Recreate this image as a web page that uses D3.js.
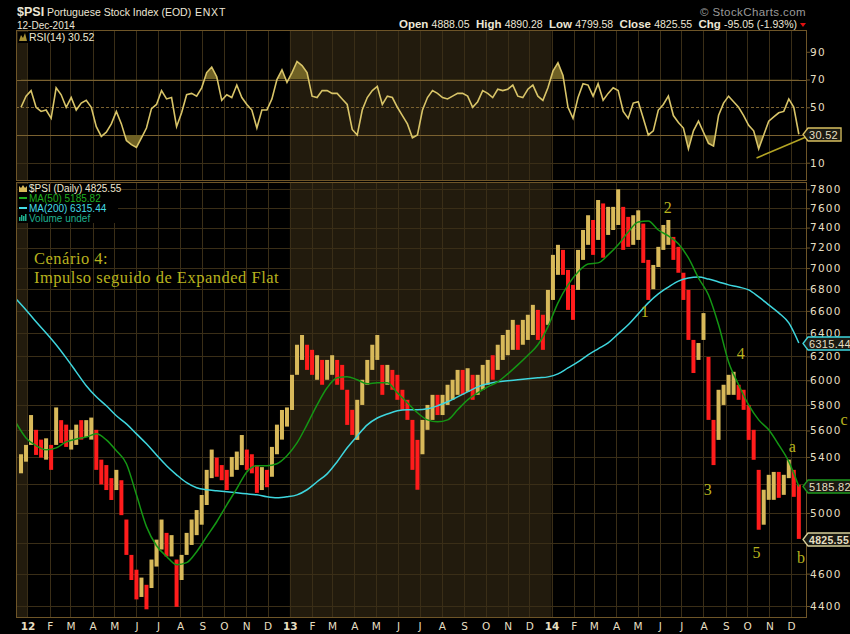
<!DOCTYPE html>
<html><head><meta charset="utf-8">
<script src="https://cdn.jsdelivr.net/npm/d3@7"></script>
<style>body{margin:0;background:#000;} svg{display:block;}</style>
</head><body><svg id="c" width="850" height="634"></svg>
<script>
// ---------- DATA ----------
const barStart = new Date(2011, 11, 23); // weekly bars (Fridays)
const high = [5420,5490,5720,5605,5530,5540,5490,5780,5680,5645,
5605,5645,5680,5680,5700,5605,5380,5340,5245,5305,
5230,4955,4720,4625,4575,4530,4690,4820,4955,4865,
4850,4690,4720,4865,4955,5020,5125,5305,5455,5395,
5340,5305,5400,5440,5565,5455,5420,5340,5325,5305,
5475,5645,5760,5780,6045,6300,6385,6300,6256,6210,
6170,6170,6210,6170,6128,5922,5761,5841,6004,6170,
6300,6385,6128,6128,6086,6045,5922,5841,5682,5528,
5682,5800,5881,5881,5881,5963,6004,6086,6086,6100,
6045,6045,6128,6170,6210,6300,6385,6430,6519,6475,
6519,6565,6655,6609,6565,6793,7128,7227,7177,6982,
6840,7177,7376,7527,7478,7686,7650,7614,7614,7800,
7614,7510,7527,7578,7441,7079,7030,7207,7427,7478,
7306,7207,6955,6793,6342,6315,6580,6195,5682,5922,
5963,6045,6070,5963,5922,5800,5605,5305,5162,5269,
5290,5290,5269,5380,5305,5197];
const low = [5280,5365,5490,5415,5395,5380,5305,5490,5505,5475,
5455,5490,5530,5550,5530,5305,5200,5160,5090,5160,
4985,4720,4560,4440,4455,4380,4510,4645,4755,4710,
4710,4395,4560,4720,4785,4850,4920,5055,5245,5255,
5230,5160,5255,5305,5340,5305,5280,5140,5160,5180,
5255,5420,5530,5630,5760,6045,6170,6086,6045,6004,
5963,6004,6045,5963,5922,5643,5566,5528,5800,5963,
6086,6170,5881,5963,5922,5841,5761,5682,5305,5162,
5420,5605,5682,5720,5720,5800,5841,5881,5881,5905,
5841,5881,5922,5963,6004,6086,6170,6210,6256,6256,
6300,6342,6385,6342,6256,6475,6700,6935,6935,6609,
6519,6793,7079,7227,7128,7276,7100,7326,7376,7427,
7177,7207,7227,7276,7050,6700,6800,7010,7177,7227,
7079,6955,6700,6342,6060,6170,6342,5682,5340,5528,
5800,5881,5881,5841,5761,5528,5379,4886,4920,5091,
5091,5105,5126,5245,5112,4825];
const close = [5390,5460,5600,5480,5440,5500,5380,5620,5560,5520,
5570,5600,5580,5620,5650,5380,5260,5230,5140,5250,
5030,4780,4610,4500,4540,4450,4650,4780,4860,4760,
4800,4480,4680,4830,4920,4980,5080,5250,5400,5300,
5270,5210,5360,5400,5450,5350,5320,5200,5270,5230,
5420,5600,5700,5740,5990,6250,6300,6150,6100,6160,
6020,6110,6150,6020,5980,5700,5620,5780,5950,6100,
6240,6300,5950,6060,5980,5900,5800,5720,5400,5300,
5620,5750,5820,5760,5830,5900,5960,6030,5940,6040,
5900,5990,6080,6120,6060,6240,6330,6380,6450,6320,
6460,6510,6600,6420,6350,6720,7050,7150,7000,6700,
6620,7100,7300,7450,7200,7600,7250,7500,7550,7700,
7300,7280,7420,7480,7100,6800,6950,7150,7380,7400,
7150,7020,6760,6420,6120,6250,6500,5800,5420,5850,
5920,5990,6010,5880,5800,5600,5420,4980,5120,5220,
5250,5150,5220,5330,5180,4825.55];
const rsi = [50,58,62,50,47,48,42,64,59,50,57,48,53,55,50,36,29,32,38,47,
38,26,23,21,28,35,49,52,62,56,57,36,46,59,60,58,64,75,79,72,
55,59,57,66,57,52,48,35,48,48,56,70,77,68,75,83,80,
75,58,57,62,62,60,60,56,52,34,30,48,57,62,65,52,58,57,50,44,
38,28,30,48,57,62,60,57,56,58,60,60,58,50,54,62,60,57,63,62,
63,66,58,57,63,66,58,55,64,76,82,73,50,42,57,67,66,58,67,55,
60,64,62,47,42,53,54,42,30,33,48,52,58,44,39,35,20,33,40,32,
24,22,44,53,58,54,50,44,37,33,20,30,40,43,46,47,56,50,30.52];
const maStart = new Date(2011, 11, 16); // two-week steps
const ma50 = [5660,5543,5484,5453,5468,5513,5535,5550,5574,5528,
5446,5350,5126,4907,4780,4710,4657,4670,4741,4840,
4940,5056,5170,5290,5335,5335,5350,5409,5505,5645,
5800,5938,6020,6030,6004,5971,5980,5980,5897,5817,
5738,5682,5667,5682,5761,5841,5897,5946,5987,6053,
6128,6210,6300,6457,6673,6840,6963,7040,7050,7128,
7227,7356,7458,7468,7376,7316,7237,7098,6905,6746,
6475,6153,5963,5800,5682,5605,5490,5365,5185.82];
const ma200 = [6710,6609,6502,6403,6300,6187,6070,5955,5865,5793,
5714,5651,5574,5498,5415,5335,5269,5212,5176,5162,
5155,5148,5140,5133,5126,5112,5105,5112,5126,5162,
5219,5276,5365,5468,5558,5643,5697,5728,5753,5761,
5761,5769,5793,5825,5865,5905,5946,5971,5987,5996,
6004,6012,6020,6028,6053,6103,6153,6213,6265,6316,
6395,6475,6573,6673,6756,6820,6876,6905,6914,6895,
6868,6840,6820,6793,6728,6655,6582,6492,6315.44];
const priceTicks = [4400,4600,4800,5000,5200,5400,5600,5800,6000,6200,6400,6600,6800,7000,7200,7400,7600,7800];
const rsiTicks = [10,30,50,70,90];
const monthLabels = ["12","F","M","A","M","J","J","A","S","O","N","D",
                     "13","F","M","A","M","J","J","A","S","O","N","D",
                     "14","F","M","A","M","J","J","A","S","O","N","D"];
const waveLabels = [
  {t:"1", d:new Date(2014,4,11), v:6590},
  {t:"2", d:new Date(2014,5,12), v:7600},
  {t:"3", d:new Date(2014,7,7),  v:5162},
  {t:"4", d:new Date(2014,8,22), v:6220},
  {t:"5", d:new Date(2014,9,14), v:4730},
  {t:"a", d:new Date(2014,11,3), v:5475},
  {t:"b", d:new Date(2014,11,15), v:4700},
  {t:"c", d:new Date(2015,1,13), v:5682}
];
const rsiTrend = [{d:new Date(2014,9,14), v:13.4},{d:new Date(2014,11,22), v:28.5}];
const noteLines = ["Cenário 4:", "Impulso seguido de Expanded Flat"];
const header = {sym:"$PSI", name:"Portuguese Stock Index (EOD)", exch:"ENXT", date:"12-Dec-2014",
  open:"4888.05", high:"4890.28", low:"4799.58", close:"4825.55", chg:"-95.05 (-1.93%)"};

// ---------- LAYOUT ----------
const L = 16, R = 806;
const rsiTop = 30, rsiBot = 180, pTop = 182, pBot = 617;
const svg = d3.select("#c");
svg.append("rect").attr("width",850).attr("height",634).attr("fill","#000");

const x = d3.scaleTime().domain([new Date(2011,11,16), new Date(2014,11,22)]).range([L, R]);
const yP = d3.scaleLog().domain([4400,7800]).range([606,189.3]);
const yR = d3.scaleLinear().domain([0,100]).range([176.6,37.9]);

const barDates = high.map((_,i)=>d3.timeDay.offset(barStart, 7*i));
const maDates = ma50.map((_,i)=>d3.timeDay.offset(maStart, 14*i));
const months = d3.timeMonth.range(new Date(2012,0,1), new Date(2015,0,1));

const defs = svg.append("defs");
defs.append("clipPath").attr("id","cp").append("rect").attr("x",L).attr("y",pTop).attr("width",R-L).attr("height",pBot-pTop);
defs.append("clipPath").attr("id","cr").append("rect").attr("x",L).attr("y",rsiTop).attr("width",R-L).attr("height",rsiBot-rsiTop);
defs.append("clipPath").attr("id","cr70").append("rect").attr("x",L).attr("y",rsiTop).attr("width",R-L).attr("height",yR(70)-rsiTop);
defs.append("clipPath").attr("id","cr30").append("rect").attr("x",L).attr("y",yR(30)).attr("width",R-L).attr("height",rsiBot-yR(30));

const gridC = "#3a2e17", borderC = "#6e5528", shadeC = "#221b0d", textC = "#e6dfc2";

function panel(top, bot){
  const g = svg.append("g");
  [[x.domain()[0], new Date(2012,0,1)], [new Date(2013,0,1), new Date(2014,0,1)]].forEach(([a,b])=>{
    g.append("rect").attr("x",x(a)).attr("y",top).attr("width",x(b)-x(a)).attr("height",bot-top).attr("fill",shadeC);
  });
  g.selectAll("line.v").data(months).join("line")
    .attr("x1",d=>Math.round(x(d))+0.5).attr("x2",d=>Math.round(x(d))+0.5)
    .attr("y1",top).attr("y2",bot).attr("stroke",gridC).attr("stroke-width",1);
  return g;
}
const gR = panel(rsiTop, rsiBot);
const gP = panel(pTop, pBot);

gP.selectAll("line.h").data(priceTicks).join("line")
  .attr("x1",L).attr("x2",R).attr("y1",d=>Math.round(yP(d))+0.5).attr("y2",d=>Math.round(yP(d))+0.5)
  .attr("stroke",gridC);
gR.append("line").attr("x1",L).attr("x2",R).attr("y1",Math.round(yR(10))+0.5).attr("y2",Math.round(yR(10))+0.5).attr("stroke",gridC);
[30,70].forEach(v=>gR.append("line").attr("x1",L).attr("x2",R).attr("y1",Math.round(yR(v))+0.5).attr("y2",Math.round(yR(v))+0.5).attr("stroke","#7a6130"));
gR.append("line").attr("x1",L).attr("x2",R).attr("y1",Math.round(yR(50))+0.5).attr("y2",Math.round(yR(50))+0.5)
  .attr("stroke","#7a6130").attr("stroke-dasharray","3,2");

// ---------- RSI ----------
const rsiPts = rsi.map((v,i)=>({d:barDates[i], v}));
const rsiLine = d3.line().x(d=>x(d.d)).y(d=>yR(d.v));
const areaTo = base => d3.area().x(d=>x(d.d)).y0(yR(base)).y1(d=>yR(d.v));
gR.append("path").attr("d",areaTo(70)(rsiPts)).attr("fill","#6f6124").attr("clip-path","url(#cr70)");
gR.append("path").attr("d",areaTo(30)(rsiPts)).attr("fill","#6f6124").attr("clip-path","url(#cr30)");
gR.append("path").attr("d",rsiLine(rsiPts)).attr("fill","none").attr("stroke","#d8c468").attr("stroke-width",1.6).attr("clip-path","url(#cr)");
svg.append("line").attr("x1",x(rsiTrend[0].d)).attr("y1",yR(rsiTrend[0].v)).attr("x2",x(rsiTrend[1].d)).attr("y2",yR(rsiTrend[1].v))
  .attr("stroke","#b4a524").attr("stroke-width",1.6);

// ---------- PRICE ----------
const gBars = gP.append("g").attr("clip-path","url(#cp)");
gBars.selectAll("rect.b").data(high).join("rect")
  .attr("x",(d,i)=>x(barDates[i])-2).attr("width",4)
  .attr("y",(d,i)=>yP(high[i])).attr("height",(d,i)=>Math.max(1,yP(low[i])-yP(high[i])))
  .attr("fill",(d,i)=> (i===0 || close[i]>=close[i-1]) ? "#d8b95a" : "#ff1c1c");
const maLine = d3.line().x((d,i)=>x(maDates[i])).y(d=>yP(d)).curve(d3.curveMonotoneX);
gBars.append("path").attr("d",maLine(ma200)).attr("fill","none").attr("stroke","#3ed6de").attr("stroke-width",1.5);
gBars.append("path").attr("d",maLine(ma50)).attr("fill","none").attr("stroke","#149614").attr("stroke-width",1.5);

[[rsiTop,rsiBot],[pTop,pBot]].forEach(([t,b])=>{
  svg.append("rect").attr("x",L+0.5).attr("y",t+0.5).attr("width",R-L).attr("height",b-t).attr("fill","none").attr("stroke",borderC);
});

// ---------- VALUE TAGS (values hide ticks they cover) ----------
const tags = [
  {v:rsi[rsi.length-1], s:yR, stroke:"#d8c060", bold:false},
  {v:ma200[ma200.length-1], s:yP, stroke:"#3ed6de", bold:false},
  {v:ma50[ma50.length-1], s:yP, stroke:"#1e9a1e", bold:false},
  {v:close[close.length-1], s:yP, stroke:"#d8cf9a", bold:true}
];
const covered = (s, t) => tags.some(g => g.s===s && Math.abs(s(g.v)-s(t)) < 8);

// ---------- AXES ----------
const font = "'DejaVu Sans', sans-serif";
const axP = svg.append("g").attr("transform",`translate(${R+1},0)`)
  .call(d3.axisRight(yP).tickValues(priceTicks.filter(t=>!covered(yP,t))).tickFormat(d3.format("d")).tickSize(3).tickPadding(0));
const axR = svg.append("g").attr("transform",`translate(${R+1},0)`)
  .call(d3.axisRight(yR).tickValues(rsiTicks.filter(t=>!covered(yR,t))).tickSize(3).tickPadding(0));
[axP,axR].forEach(a=>{
  a.select(".domain").remove();
  a.selectAll("line").attr("stroke",borderC);
  a.selectAll("text").attr("fill",textC).attr("font-family",font).attr("font-size",10.5).attr("letter-spacing",1.2);
});
const axX = svg.append("g").attr("transform",`translate(0,${pBot})`)
  .call(d3.axisBottom(x).tickValues(months).tickFormat((d,i)=>monthLabels[i]).tickSize(0).tickPadding(6));
axX.select(".domain").remove();
axX.selectAll("text").attr("fill",textC).attr("font-family",font).attr("font-size",10.5)
  .attr("font-weight",(d,i)=>/\d/.test(monthLabels[i])?"bold":"normal");

const sans = "'Liberation Sans', Arial, sans-serif";
tags.forEach(tg=>{
  const yy = Math.round(tg.s(tg.v))+0.5, x0 = R-3;
  const g = svg.append("g");
  const p = g.append("path");
  const t = g.append("text").attr("x",x0+6).attr("y",yy+4).text(d3.format(".2f")(tg.v))
    .attr("fill",textC).attr("font-family",sans).attr("font-size",tg.bold?10.5:11).attr("font-weight",tg.bold?"bold":"normal")
    .attr("letter-spacing",0.3);
  const w = t.node().getComputedTextLength() + 9;
  p.attr("d",`M${x0},${yy} L${x0+5},${yy-6.5} L${x0+w},${yy-6.5} L${x0+w},${yy+6.5} L${x0+5},${yy+6.5} Z`)
    .attr("fill","#1a1a12").attr("stroke",tg.stroke).attr("stroke-width",1.3);
});

// ---------- LEGENDS ----------
const lg = svg.append("g");
lg.append("rect").attr("x",18).attr("y",32).attr("width",74).attr("height",11).attr("fill","#000");
lg.append("path").attr("d","M19,41 L21,35 L23,38 L25,33 L27,41 Z").attr("fill","#a99235");
lg.append("text").attr("x",29).attr("y",41).text("RSI(14) "+rsi[rsi.length-1]).attr("fill","#eee8d0").attr("font-family",sans).attr("font-size",10.5);

const legendRows = [
  {t:`${header.sym} (Daily) ${close[close.length-1]}`, c:"#f0e8d0"},
  {t:`MA(50) ${ma50[ma50.length-1]}`, c:"#1fae1f"},
  {t:`MA(200) ${ma200[ma200.length-1]}`, c:"#44dde6"},
  {t:"Volume undef", c:"#1fb08e"}
];
lg.append("rect").attr("x",18).attr("y",184).attr("width",100).attr("height",39).attr("fill","#000");
legendRows.forEach((r,i)=>{
  const yy = 192 + i*10;
  lg.append("text").attr("x",29).attr("y",yy).text(r.t).attr("fill",r.c).attr("font-family",sans).attr("font-size",10);
});
lg.append("path").attr("d","M19,192 L19,186 L21,188 L23,185 L25,188 L27,186 L27,192 Z").attr("fill","#d8b95a");
lg.append("rect").attr("x",19).attr("y",197).attr("width",8).attr("height",2).attr("fill","#1fae1f");
lg.append("rect").attr("x",19).attr("y",207).attr("width",8).attr("height",2).attr("fill","#44dde6");
[[19,4],[21,6],[23,5],[25,7]].forEach(([bx,h])=>lg.append("rect").attr("x",bx).attr("y",221-h).attr("width",1.5).attr("height",h).attr("fill","#1fb08e"));

// ---------- ANNOTATIONS ----------
const serif = "'Liberation Serif', 'DejaVu Serif', serif";
const note = svg.append("g").attr("fill","#b8b21e").attr("font-family",serif).attr("font-size",16.5).attr("letter-spacing",0.5);
noteLines.forEach((s,i)=>note.append("text").attr("x",34).attr("y",264+i*18.6).text(s));
svg.append("g").selectAll("text").data(waveLabels).join("text")
  .attr("x",d=>x(d.d)).attr("y",d=>yP(d.v)+5).attr("text-anchor","middle")
  .attr("fill","#b8b21e").attr("font-family",serif).attr("font-size",16).text(d=>d.t);

// ---------- HEADER ----------
const h1 = svg.append("text").attr("x",17).attr("y",16).attr("font-family",sans).attr("fill","#ece6d6");
h1.append("tspan").text(header.sym).attr("font-weight","bold").attr("font-size",12.5);
h1.append("tspan").text(" "+header.name).attr("font-size",10.5);
h1.append("tspan").text(" "+header.exch).attr("font-size",10.5).attr("letter-spacing",0.8);
svg.append("text").attr("x",17).attr("y",29).text(header.date).attr("font-family",sans).attr("font-size",10)
  .attr("fill","#ece6d6");
svg.append("text").attr("x",806).attr("y",16).attr("text-anchor","end").text("© StockCharts.com")
  .attr("font-family",sans).attr("font-size",11.5).attr("letter-spacing",0.4).attr("fill","#9a9a9a");
const h2 = svg.append("text").attr("x",797).attr("y",28).attr("text-anchor","end").attr("font-family",sans).attr("font-size",10.5).attr("fill","#ece6d6").attr("xml:space","preserve");
[["Open ",header.open],["  High ",header.high],["  Low ",header.low],["  Close ",header.close],["  Chg ",header.chg]].forEach(([k,v])=>{
  h2.append("tspan").text(k).attr("font-weight","bold").attr("font-size",11.5);
  h2.append("tspan").text(v);
});
svg.append("path").attr("d","M800,23 L806,23 L803,27 Z").attr("fill","#e01010");
</script></body></html>
